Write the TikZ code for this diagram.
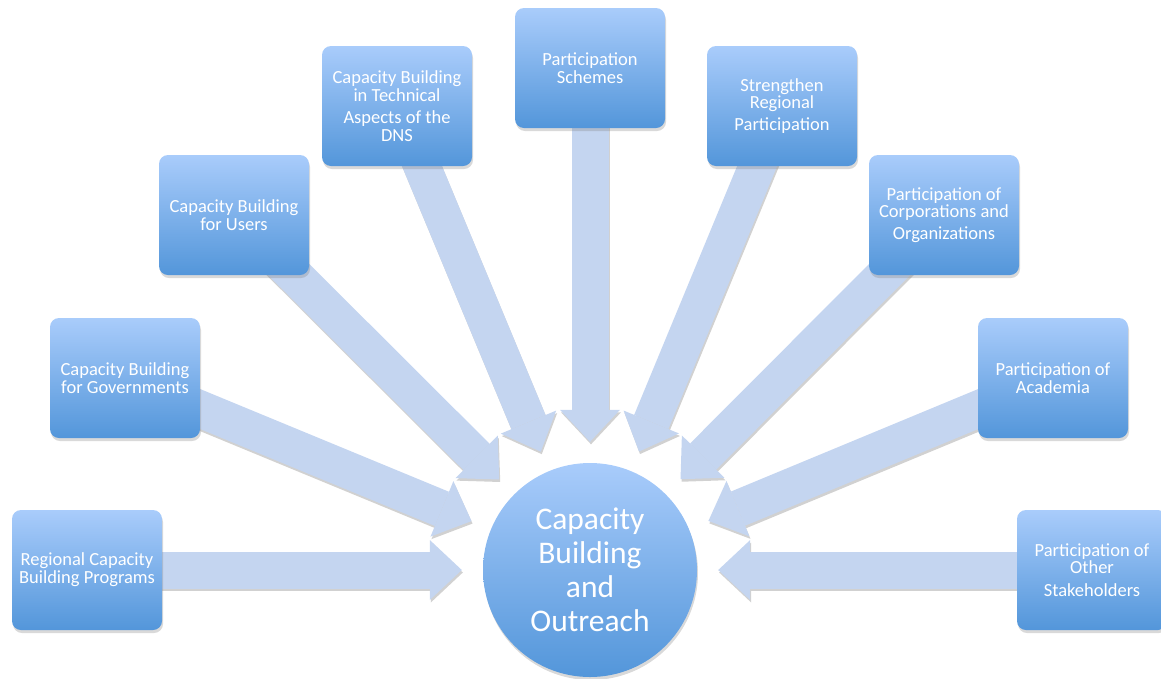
\documentclass[tikz,border=0pt]{standalone}
\usepackage{fontspec}
\setmainfont{Carlito}
\usetikzlibrary{arrows.meta,shadows,backgrounds}
\definecolor{boxtop}{HTML}{A9CCFB}
\definecolor{boxbot}{HTML}{5396DA}
\definecolor{feedc}{HTML}{C4D5F0}

\begin{document}
\begin{tikzpicture}[x=1pt, y=-1pt,
          topic/.style={rectangle, rounded corners=9pt, minimum width=150pt,
            minimum height=120pt, top color=boxtop, bottom color=boxbot,
            text=white, align=center, font=\fontsize{18.5}{17.8}\selectfont,
            drop shadow={shadow xshift=1pt, shadow yshift=-3pt, opacity=.3}},
          hub/.style={circle, minimum size=214pt, top color=boxtop,
            bottom color=boxbot, text=white, align=center,
            font=\fontsize{31.5}{34}\selectfont,
            drop shadow={shadow xshift=1pt, shadow yshift=-3pt, opacity=.3}},
          feed/.style={draw=feedc, line width=37pt, shorten >=21pt,
            -{Triangle[length=32pt,width=60pt,line width=0pt]}},
          feedshade/.style={feed, draw=black!18,
            transform canvas={shift={(1pt,-2.5pt)}}}]

          \useasboundingbox (0,0) rectangle (1161,678);

          \node[topic] (1) at (87,570) {Regional Capacity\\Building Programs};
          \node[topic] (2) at (125,378) {Capacity Building\\for Governments};
          \node[topic] (3) at (234,215) {Capacity Building\\for Users};
          \node[topic] (4) at (397,106) {Capacity Building\\in Technical\\[4pt]Aspects of the\\DNS};
          \node[topic] (5) at (590,68) {Participation\\Schemes};
          \node[topic] (6) at (782,106) {Strengthen\\Regional\\[4pt]Participation};
          \node[topic] (7) at (944,215) {Participation of\\Corporations and\\[4pt]Organizations};
          \node[topic] (8) at (1053,378) {Participation of\\Academia};
          \node[topic] (9) at (1092,570) {Participation of\\Other\\[5pt]Stakeholders};

          \node[hub] (hub) at (590,570) {Capacity\\Building\\and\\Outreach};

          \begin{scope}[on background layer]
            \foreach \n in {1,...,9}
              \draw[feedshade] (\n.center) -- (hub);
            \foreach \n in {1,...,9}
              \draw[feed] (\n.center) -- (hub);
          \end{scope}
        \end{tikzpicture}
\end{document}
